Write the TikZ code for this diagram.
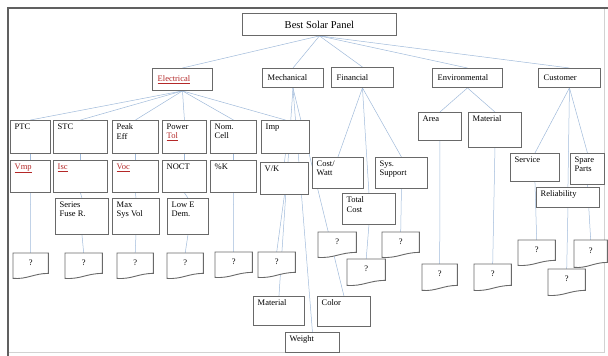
\documentclass[tikz,border=0pt]{standalone}
\usepackage{fontspec}
\setmainfont{Liberation Serif}
\usetikzlibrary{backgrounds}
\definecolor{connc}{RGB}{160,186,218}
\definecolor{boxc}{RGB}{105,105,105}
\definecolor{lnk}{RGB}{180,40,40}
\tikzset{
 boxs/.style={draw=boxc, line width=0.9pt, fill=white, inner sep=0pt, anchor=north west},
 qshape/.style={inner sep=0pt, anchor=north west},
 qline/.style={draw=boxc, line width=0.9pt, fill=white},
 lbl/.style={anchor=north west, inner sep=1.5pt, align=left, font=\fontsize{8.5}{9.5}\selectfont},
 conn/.style={draw=connc, line width=0.5pt}
}
\newcommand\lk[1]{\textcolor{lnk}{\underline{#1}}}
\newcommand\bx[6]{%
 \node[boxs, minimum width={(#4-#2)*1pt}, minimum height={(#5-#3)*1pt}] (#1) at (#2,#3) {};
 \node[lbl] (#1t) at ([shift={(3pt,-2pt)}]#1.north west) {#6};
}
\newcommand\tbx[6]{%
 \node[boxs, minimum width={(#4-#2)*1pt}, minimum height={(#5-#3)*1pt}] (#1) at (#2,#3) {};
 \node[lbl, anchor=west] (#1t) at ([xshift=4pt]#1.west) {#6};
}
\newcommand\qb[5]{%
 \node[qshape, minimum width={(#4-#2)*1pt}, minimum height={(#5-#3)*1pt}] (#1) at (#2,#3) {};
 \draw[qline] (#1.north west) -- (#1.north east) -- ([yshift=5pt]#1.south east)
   .. controls ([xshift=3pt,yshift=5pt]#1.south) and ([xshift=-3pt,yshift=-1pt]#1.south) .. (#1.south west) -- cycle;
 \node[lbl, anchor=center] (#1t) at ([yshift=3pt]#1.center) {?};
}
\begin{document}
\begin{tikzpicture}[x=1pt,y=-1pt]
\useasboundingbox (0,0) rectangle (608,356);
% frame
\coordinate (ftl) at (8,8);
\coordinate (ftr) at (608,8);
\coordinate (fbl) at (8,356);
\coordinate (fbr) at (604,352);
\draw[gray!35, line width=0.6pt] (ftl) rectangle (fbr);
\draw[gray!75!black, line width=1.3pt] (fbl) -- (ftl) -- (ftr);
% title
\node[boxs, minimum width=154pt, minimum height=22pt] (bsp) at (242,13) {};
\node[lbl, anchor=center, font=\fontsize{10.5}{12}\selectfont] (bspt) at (bsp.center) {Best Solar Panel};
% top level
\tbx{elec}{152}{68}{212}{90}{\lk{Electrical}}
\tbx{mech}{262}{68}{323}{87}{Mechanical}
\tbx{fin}{331}{67}{393}{87}{Financial}
\tbx{env}{432}{68}{502}{87}{Environmental}
\tbx{cust}{538}{68}{600}{87}{Customer}
% electrical row 2
\bx{ptc}{10}{120}{50}{153}{PTC}
\bx{stc}{53}{120}{107}{153}{STC}
\bx{peak}{112}{120}{158}{153}{Peak\\Eff}
\bx{pow}{162}{120}{206}{153}{Power\\\lk{Tol}}
\bx{nom}{210}{120}{256}{153}{Nom.\\Cell}
\bx{imp}{261}{120}{309}{153}{Imp}
% row 3
\bx{vmp}{10}{160}{50}{192}{\lk{Vmp}}
\bx{isc}{53}{160}{107}{192}{\lk{Isc}}
\bx{voc}{112}{160}{158}{192}{\lk{Voc}}
\bx{noct}{162}{160}{206}{192}{NOCT}
\bx{pk}{210}{160}{256}{192}{\%K}
\bx{vk}{260}{162}{308}{194}{V/K}
% row 4
\bx{ser}{55}{198}{108}{234}{Series\\Fuse R.}
\bx{max}{112}{198}{159}{234}{Max\\Sys Vol}
\bx{low}{167}{198}{208}{234}{Low E\\Dem.}
% question boxes electrical
\qb{q1}{13}{253}{48}{278}
\qb{q2}{65}{253}{102}{278}
\qb{q3}{117}{253}{153}{278}
\qb{q4}{167}{253}{203}{278}
\qb{q5}{215}{252}{252}{277}
\qb{q6}{258}{252}{295}{277}
% mechanical
\bx{mmat}{253}{296}{304}{325}{Material}
\bx{weight}{285}{332}{339}{352}{Weight}
\bx{color}{317}{296}{370}{326}{Color}
% financial
\bx{cw}{312}{157}{363}{188}{Cost/\\Watt}
\bx{ss}{375}{157}{427}{188}{Sys.\\Support}
\bx{tc}{342}{193}{395}{224}{Total\\Cost}
\qb{qcw}{318}{232}{356}{257}
\qb{qss}{382}{232}{419}{257}
\qb{qtc}{347}{259}{385}{285}
% environmental
\bx{area}{418}{112}{461}{140}{Area}
\bx{emat}{468}{112}{521}{147}{Material}
\qb{qa}{422}{264}{457}{290}
\qb{qm}{474}{264}{511}{290}
% customer
\bx{serv}{510}{153}{559}{181}{Service}
\bx{spare}{570}{153}{604}{184}{Spare\\Parts}
\bx{rel}{536}{187}{599}{207}{Reliability}
\qb{qsv}{518}{240}{555}{265}
\qb{qsp}{574}{240}{607}{267}
\qb{qrel}{548}{269}{585}{295}
% connectors
\begin{scope}[on background layer]
\foreach \c in {elec,mech,fin,env,cust} \draw[conn] (bsp.south) -- (\c.north);
\foreach \c in {ptc,stc,peak,pow,nom,imp} \draw[conn] (elec.south) -- (\c.north);
\foreach \a/\b in {ptc/vmp,stc/isc,peak/voc,pow/noct,nom/pk,imp/vk,isc/ser,voc/max,noct/low,vmp/q1,ser/q2,max/q3,low/q4,pk/q5,vk/q6,tc/qtc,ss/qss,area/qa,emat/qm,serv/qsv,rel/qrel,spare/qsp}
  \draw[conn] (\a.south) -- (\b.north);
\foreach \c in {mmat,weight,color} \draw[conn] (mech.south) -- (\c.north);
\foreach \c in {cw,tc,ss} \draw[conn] (fin.south) -- (\c.north);
\foreach \c in {area,emat} \draw[conn] (env.south) -- (\c.north);
\foreach \c in {serv,rel,spare} \draw[conn] (cust.south) -- (\c.north);
\end{scope}
\end{tikzpicture}
\end{document}
